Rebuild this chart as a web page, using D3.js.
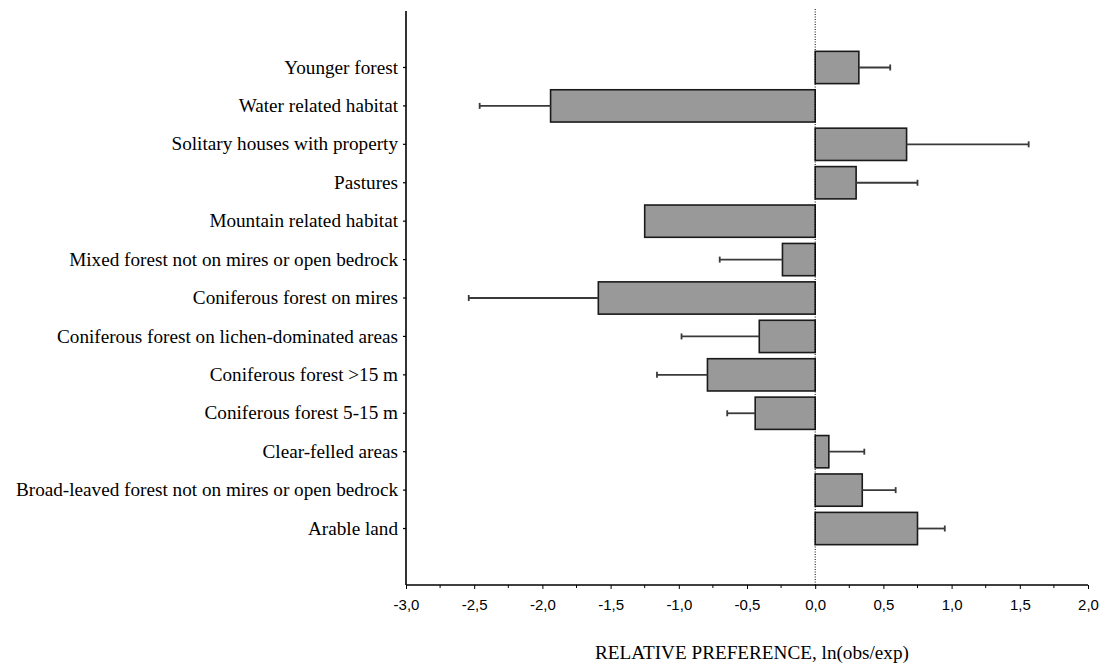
<!DOCTYPE html>
<html>
<head>
<meta charset="utf-8">
<script src="https://cdn.jsdelivr.net/npm/d3@7"></script>
<style>
  body { margin: 0; background: #fff; }
  svg { display: block; }
</style>
</head>
<body>
<svg id="chart" width="1101" height="669"></svg>
<script>
// habitat categories, top to bottom
const habitats = [
  "Younger forest",
  "Water related habitat",
  "Solitary houses with property",
  "Pastures",
  "Mountain related habitat",
  "Mixed forest not on mires or open bedrock",
  "Coniferous forest on mires",
  "Coniferous forest on lichen-dominated areas",
  "Coniferous forest >15 m",
  "Coniferous forest 5-15 m",
  "Clear-felled areas",
  "Broad-leaved forest not on mires or open bedrock",
  "Arable land"
];
// ln(obs/exp)
const preference = [0.32, -1.94, 0.67, 0.30, -1.25, -0.24, -1.59, -0.41, -0.79, -0.44, 0.10, 0.345, 0.75];
// end of the error bar (one-sided, away from zero)
const errorEnd = [0.55, -2.46, 1.565, 0.75, null, -0.70, -2.54, -0.98, -1.16, -0.645, 0.36, 0.59, 0.95];
const xTicks = [-3, -2.5, -2, -1.5, -1, -0.5, 0, 0.5, 1, 1.5, 2];

const data = habitats.map((h, i) => ({ name: h, value: preference[i], err: errorEnd[i] }));

const svg = d3.select("#chart");
const plotLeft = 406, plotRight = 1088, plotTop = 11, plotBottom = 585;

const x = d3.scaleLinear().domain([-3, 2]).range([plotLeft, plotRight]);
const y = d3.scaleBand()
    .domain(habitats)
    .range([plotTop, plotBottom])
    .paddingInner(0.16)
    .paddingOuter(1.05);

// bars
svg.append("g").selectAll("rect")
    .data(data)
    .enter().append("rect")
    .attr("x", d => x(Math.min(0, d.value)))
    .attr("y", d => y(d.name))
    .attr("width", d => Math.abs(x(d.value) - x(0)))
    .attr("height", y.bandwidth())
    .attr("fill", "#999999")
    .attr("stroke", "#1a1a1a")
    .attr("stroke-width", 1.6);

// error bars
const eb = svg.append("g").selectAll("g")
    .data(data.filter(d => d.err !== null))
    .enter().append("g")
    .attr("stroke", "#3a3a3a")
    .attr("stroke-width", 1.8);
eb.append("line")
    .attr("x1", d => x(d.value))
    .attr("x2", d => x(d.err))
    .attr("y1", d => y(d.name) + y.bandwidth() / 2)
    .attr("y2", d => y(d.name) + y.bandwidth() / 2);
eb.append("line")
    .attr("x1", d => x(d.err))
    .attr("x2", d => x(d.err))
    .attr("y1", d => y(d.name) + y.bandwidth() / 2 - 3)
    .attr("y2", d => y(d.name) + y.bandwidth() / 2 + 3);

// dotted zero line
svg.append("line")
    .attr("x1", x(0)).attr("x2", x(0))
    .attr("y1", plotTop - 2).attr("y2", plotBottom)
    .attr("stroke", "#000")
    .attr("stroke-width", 1)
    .attr("stroke-dasharray", "1,1.5");

// y axis
const yAxis = svg.append("g")
    .attr("transform", `translate(${plotLeft},0)`)
    .call(d3.axisLeft(y).tickSize(3).tickPadding(5).tickSizeOuter(0));
yAxis.select(".domain").attr("d", `M0,${plotTop}V${plotBottom}`).attr("stroke-width", 1.6);
yAxis.selectAll(".tick line").attr("stroke-width", 1.2);
yAxis.selectAll("text")
    .attr("font-family", "'Liberation Serif', 'Times New Roman', serif")
    .attr("font-size", 19.2)
    .attr("fill", "#000");

// x axis with minor ticks
const xAxis = svg.append("g")
    .attr("transform", `translate(0,${plotBottom})`)
    .call(d3.axisBottom(x).tickValues(xTicks).tickSize(4).tickPadding(10)
        .tickFormat(d => d3.format(".1f")(d).replace(".", ",").replace("−", "-")));
xAxis.select(".domain").attr("d", `M${plotLeft},0H${plotRight}`).attr("stroke-width", 1.6);
xAxis.selectAll("text")
    .attr("font-family", "'Liberation Sans', Arial, sans-serif")
    .attr("font-size", 15)
    .attr("fill", "#000");
svg.append("g")
    .attr("transform", `translate(0,${plotBottom})`)
    .selectAll("line")
    .data(d3.range(-2.75, 2, 0.5))
    .enter().append("line")
    .attr("x1", d => x(d)).attr("x2", d => x(d))
    .attr("y1", 0).attr("y2", 3)
    .attr("stroke", "#000");

// axis title
svg.append("text")
    .attr("x", 752)
    .attr("y", 659)
    .attr("text-anchor", "middle")
    .attr("font-family", "'Liberation Serif', 'Times New Roman', serif")
    .attr("font-size", 19.2)
    .text("RELATIVE PREFERENCE, ln(obs/exp)");
</script>
</body>
</html>
